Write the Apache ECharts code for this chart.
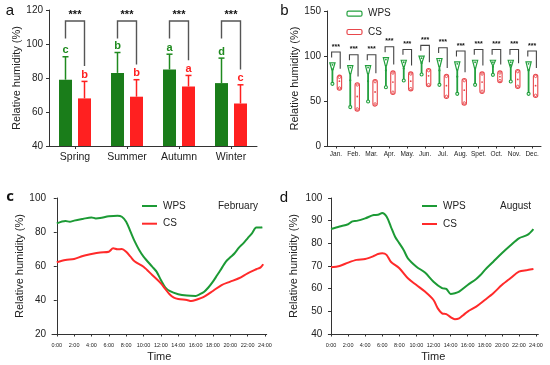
<!DOCTYPE html>
<html><head><meta charset="utf-8">
<script src="https://cdn.jsdelivr.net/npm/echarts@6/dist/echarts.min.js"></script>
<style>html,body{margin:0;padding:0;background:#fff}#c{width:550px;height:365px}</style>
</head><body><div id="c"></div>
<script>
// ---------- Panel a: seasonal means ----------
const seasons = ['Spring', 'Summer', 'Autumn', 'Winter'];
const seasonWps = [79, 83, 85, 77];
const seasonWpsErr = [13.5, 12, 9, 14.7];
const seasonCs = [68, 69, 75, 65];
const seasonCsErr = [10, 10, 6.5, 11];
const seasonWpsLetters = ['c', 'b', 'a', 'd'];
const seasonCsLetters = ['b', 'b', 'a', 'c'];
const aTicks = [40, 60, 80, 100, 120];

// ---------- Panel b: monthly violins ----------
const months = ['Jan.', 'Feb.', 'Mar.', 'Apr.', 'May.', 'Jun.', 'Jul.', 'Aug.', 'Spet.', 'Oct.', 'Nov.', 'Dec.'];
const wpsMin = [67.6, 41.8, 48, 63.9, 71.3, 78, 66.5, 56.5, 66.5, 77.6, 70.2, 56.5];
const wpsMed = [85, 73, 72, 84, 86, 92, 84, 77, 86, 88, 90, 84];
const wpsMax = [92.4, 89.4, 89.4, 98.3, 95.3, 99.8, 97.2, 93.5, 95.3, 95.3, 95.3, 93.5];
const csMin = [62, 38.8, 44.3, 57.3, 61.3, 65.8, 52.8, 45.4, 58.4, 70.2, 63.9, 53.9];
const csMed = [72, 55, 60, 71, 72, 78, 67, 62, 71, 77, 74, 67];
const csMax = [78.7, 70.2, 73.9, 83.5, 82.4, 86.1, 79.8, 75, 82.4, 83.5, 85, 79.8];

// ---------- Panel c: February diurnal ----------
const febWpsHours = [0,1,1.5,2,3,4,4.5,5,6,7,7.5,8,8.5,9,9.5,10,11,11.5,12,12.5,13,14,15,16,16.5,17,17.5,18,18.5,19,19.5,20,20.5,21,21.5,22,22.5,23,23.5,23.7];
const febWps = [85.1,86.5,86,86.7,87.7,88.6,88,88.2,89.2,89.6,89,86.1,80.2,74.3,69.4,65.5,59.6,56.7,51.8,47.5,45.3,43.4,42.6,42.4,43.4,44.9,47.5,50.8,54.7,58.6,62.6,65.1,67.5,70.8,73.3,76.3,79.2,82.6,82.6,82.8];
const febCsHours = [0,1,2,3,4,5,6,6.5,7,7.5,8,8.5,9,10,11,12,12.5,13,13.5,14,15,15.5,16,17,18,19,20,21,22,23,23.5,23.8];
const febCs = [62.2,63.5,64.1,65.9,67,67.9,68.4,70.4,69.8,70,68.4,65.5,62.6,59.6,54.7,49.8,46.5,43.4,41.4,40.6,40,39.4,40,42,45.3,48.8,50.8,52.8,55.7,58.1,59.2,61];

// ---------- Panel d: August diurnal ----------
const augWpsHours = [0,1,2,2.5,3,4,5,5.5,6,6.5,7,7.5,8,8.5,9,10,11,12,13,13.5,14,14.5,15,16,17,17.5,18,19,20,21,22,23,23.7];
const augWps = [86.3,87.4,88.4,89.7,89.9,91,92.5,92.6,93.4,91.8,87.4,82.9,80,77.1,73.4,69.7,67.1,63.1,60.2,59.9,57.7,58,58.7,61.6,64.3,66,68.2,71.9,75.6,79,82.2,83.7,86.3];
const augCsHours = [0,1,2,3,4,5,5.5,6,6.5,7,8,9,10,11,12,12.5,13,13.5,14,14.5,15,15.5,16,17,18,19,20,21,22,23,23.7];
const augCs = [69.4,70,71.5,72.7,73.1,74.4,75.3,75.6,74.9,71.9,69,64.6,61.6,58.7,55,51.3,49.1,48.8,47.4,46.5,46.9,48.4,49.9,52.1,55,58,61.6,64.6,67.5,68.2,68.7];
const hourTicks = [0,2,4,6,8,10,12,14,16,18,20,22,24];

// ---------- styles ----------
const FONT = 'Liberation Sans';
const GREEN_BAR = '#1a7d1a', RED_BAR = '#ff2020';
const GREEN_LINE = '#1c9a35', RED_LINE = '#ff2a2a';
const GREEN_V = '#23a03e', RED_V = '#e8474c';
const AX = '#333';

const zip = (a, b) => a.map((v, i) => [v, b[i]]);

function axisBase() {
  return {
    axisLine: { show: true, lineStyle: { color: AX, width: 1 } },
    axisTick: { show: true, length: 3, lineStyle: { color: AX } },
    splitLine: { show: false },
    axisLabel: { color: '#222', fontFamily: FONT, fontSize: 10 }
  };
}
function yName(gap) {
  return { name: 'Relative humidity (%)', nameLocation: 'middle', nameGap: gap,
    nameTextStyle: { fontFamily: FONT, fontSize: 11, color: '#222' } };
}

// error bars + letters
function errRender(offset, color, letters) {
  return function (params, api) {
    const i = api.value(0), m = api.value(1), e = api.value(2);
    const p0 = api.coord([i, m]), p1 = api.coord([i, m + e]), pl = api.coord([i, m + e + 3.8]);
    const x = p0[0] + offset;
    return { type: 'group', children: [
      { type: 'line', shape: { x1: x, y1: p0[1], x2: x, y2: p1[1] }, style: { stroke: color, lineWidth: 1.5 } },
      { type: 'line', shape: { x1: x - 3, y1: p1[1], x2: x + 3, y2: p1[1] }, style: { stroke: color, lineWidth: 1.5 } },
      { type: 'text', x: x, y: pl[1], style: { text: letters[params.dataIndex], fill: color, font: 'bold 11px ' + FONT, align: 'center', verticalAlign: 'middle' } }
    ] };
  };
}
// significance bracket (panel a)
function bracketA(params, api) {
  const i = api.value(0), redTop = api.value(2);
  const c = api.coord([i, 113.5]);
  const xl = c[0] - 9.5, xr = c[0] + 9.5;
  const yl = api.coord([i, 103.3])[1], yr = api.coord([i, redTop + 9])[1];
  const ys = api.coord([i, 117.3])[1];
  return { type: 'group', children: [
    { type: 'polyline', shape: { points: [[xl, yl], [xl, c[1]], [xr, c[1]], [xr, yr]] }, style: { stroke: '#555', lineWidth: 1.4, fill: null } },
    { type: 'text', x: c[0], y: ys, style: { text: '***', fill: '#111', font: 'bold 11px ' + FONT, align: 'center', verticalAlign: 'middle' } }
  ] };
}
// violins (panel b)
function greenViolin(params, api) {
  const i = api.value(0), mn = api.value(1), md = api.value(2), mx = api.value(3);
  const top = api.coord([i, mx]), bot = api.coord([i, mn]), pm = api.coord([i, md]);
  const x = top[0] - 3.5, h = bot[1] - top[1];
  const yt = top[1], yn = yt + Math.min(0.3 * h, 8);
  return { type: 'group', children: [
    { type: 'polygon', shape: { points: [[x - 2.6, yt], [x + 2.6, yt], [x + 0.6, yn], [x - 0.6, yn]] }, style: { fill: '#fff', stroke: GREEN_V, lineWidth: 1.2 } },
    { type: 'line', shape: { x1: x, y1: yn, x2: x, y2: bot[1] - 1.6 }, style: { stroke: GREEN_V, lineWidth: 1.8 } },
    { type: 'circle', shape: { cx: x, cy: bot[1] - 1.3, r: 1.5 }, style: { fill: '#fff', stroke: GREEN_V, lineWidth: 1.1 } },
    { type: 'circle', shape: { cx: x, cy: pm[1], r: 1.1 }, style: { fill: GREEN_V } },
    { type: 'circle', shape: { cx: x, cy: yt + 2, r: 0.9 }, style: { fill: GREEN_V } }
  ] };
}
function redViolin(params, api) {
  const i = api.value(0), mn = api.value(1), md = api.value(2), mx = api.value(3);
  const top = api.coord([i, mx]), bot = api.coord([i, mn]), pm = api.coord([i, md]);
  const x = top[0] + 3.5, h = bot[1] - top[1];
  return { type: 'group', children: [
    { type: 'rect', shape: { x: x - 2.2, y: top[1], width: 4.4, height: h, r: 2.2 }, style: { fill: '#fff', stroke: RED_V, lineWidth: 1.1 } },
    { type: 'circle', shape: { cx: x, cy: top[1] + 2.2, r: 1.2 }, style: { fill: '#fff', stroke: RED_V, lineWidth: 0.9 } },
    { type: 'circle', shape: { cx: x, cy: bot[1] - 2.2, r: 1.2 }, style: { fill: '#fff', stroke: RED_V, lineWidth: 0.9 } },
    { type: 'circle', shape: { cx: x, cy: pm[1], r: 0.9 }, style: { fill: RED_V } }
  ] };
}
function bracketB(params, api) {
  const i = api.value(0), gMax = api.value(1), rMax = api.value(2);
  const c = api.coord([i, gMax + 12]);
  const xl = c[0] - 4.3, xr = c[0] + 4.3;
  const yl = api.coord([i, gMax + 6])[1], yr = api.coord([i, rMax + 7])[1];
  const ys = api.coord([i, gMax + 18])[1];
  return { type: 'group', children: [
    { type: 'polyline', shape: { points: [[xl, yl], [xl, c[1]], [xr, c[1]], [xr, yr]] }, style: { stroke: '#444', lineWidth: 1.1, fill: null } },
    { type: 'text', x: c[0], y: ys, style: { text: '***', fill: '#111', font: 'bold 7px ' + FONT, align: 'center', verticalAlign: 'middle' } }
  ] };
}

const chart = echarts.init(document.getElementById('c'), null, { renderer: 'canvas' });

const xA = Object.assign(axisBase(), { type: 'category', gridIndex: 0, data: seasons,
  axisTick: { show: true, alignWithLabel: true, length: 3, lineStyle: { color: AX } } });
xA.axisLabel = { color: '#222', fontFamily: FONT, fontSize: 10.5, margin: 6 };
const yA = Object.assign(axisBase(), yName(21), { type: 'value', gridIndex: 0, min: aTicks[0], max: aTicks[aTicks.length - 1], interval: 20 });
yA.axisLabel = { color: '#222', fontFamily: FONT, fontSize: 10, margin: 6 };

const xB = Object.assign(axisBase(), { type: 'category', gridIndex: 1, data: months,
  axisTick: { show: true, alignWithLabel: true, length: 2.5, lineStyle: { color: AX } } });
xB.axisLabel = { color: '#222', fontFamily: FONT, fontSize: 6.5, margin: 5, interval: 0 };
const yB = Object.assign(axisBase(), yName(27), { type: 'value', gridIndex: 1, min: 0, max: 150, interval: 50 });
yB.axisLabel = { color: '#222', fontFamily: FONT, fontSize: 10, margin: 6 };

function timeX(gi, mn, mx) {
  const a = axisBase();
  return Object.assign(a, { type: 'value', gridIndex: gi, min: mn, max: mx,
    name: 'Time', nameLocation: 'middle', nameGap: 17, nameTextStyle: { fontFamily: FONT, fontSize: 11, color: '#222' },
    axisTick: { show: true, length: 2.5, customValues: hourTicks, lineStyle: { color: AX } },
    axisLabel: { color: '#222', fontFamily: FONT, fontSize: 5.5, margin: 8, customValues: hourTicks, formatter: v => v + ':00' } });
}
const xC = timeX(2, -0.55, 24.2);
const yC = Object.assign(axisBase(), yName(26), { type: 'value', gridIndex: 2, min: 20, max: 100, interval: 20 });
yC.axisLabel = { color: '#222', fontFamily: FONT, fontSize: 10, margin: 6 };
const xD = timeX(3, -0.32, 24.27);
const yD = Object.assign(axisBase(), yName(29), { type: 'value', gridIndex: 3, min: 40, max: 100, interval: 10 });
yD.axisLabel = { color: '#222', fontFamily: FONT, fontSize: 10, margin: 6 };

function lineSeries(name, gi, data, color) {
  return { type: 'line', name: name, xAxisIndex: gi, yAxisIndex: gi, data: data, showSymbol: false, smooth: 0.3,
    lineStyle: { color: color, width: 2 }, itemStyle: { color: color }, animation: false };
}

function legendLine(x, y, color, text) {
  return [
    { type: 'line', shape: { x1: x, y1: y, x2: x + 15, y2: y }, style: { stroke: color, lineWidth: 2 } },
    { type: 'text', x: x + 21, y: y, style: { text: text, fill: '#222', font: '10px ' + FONT, verticalAlign: 'middle' } }
  ];
}
function legendBox(x, y, color, text) {
  return [
    { type: 'rect', shape: { x: x, y: y - 2.5, width: 15, height: 5, r: 1.5 }, style: { fill: '#fff', stroke: color, lineWidth: 1.2 } },
    { type: 'text', x: x + 21, y: y, style: { text: text, fill: '#222', font: '10px ' + FONT, verticalAlign: 'middle' } }
  ];
}
function panelLabel(x, y, t, font) {
  return { type: 'text', x: x, y: y, style: { text: t, fill: '#111', font: font || '15px ' + FONT, align: 'center', verticalAlign: 'middle' } };
}

const option = {
  animation: false,
  backgroundColor: '#fff',
  grid: [
    { left: 49, top: 10, width: 208, height: 136 },
    { left: 327, top: 11, width: 214, height: 135 },
    { left: 52, top: 198, width: 214.7, height: 136 },
    { left: 328.3, top: 198, width: 210, height: 136 }
  ],
  xAxis: [xA, xB, xC, xD],
  yAxis: [yA, yB, yC, yD],
  series: [
    { type: 'bar', name: 'WPS', xAxisIndex: 0, yAxisIndex: 0, data: seasonWps, barWidth: 13, barGap: '46%', itemStyle: { color: GREEN_BAR } },
    { type: 'bar', name: 'CS', xAxisIndex: 0, yAxisIndex: 0, data: seasonCs, barWidth: 13, barGap: '46%', itemStyle: { color: RED_BAR } },
    { type: 'custom', xAxisIndex: 0, yAxisIndex: 0, renderItem: errRender(-9.5, '#1f8a1f', seasonWpsLetters),
      data: seasonWps.map((v, i) => [i, v, seasonWpsErr[i]]), z: 3 },
    { type: 'custom', xAxisIndex: 0, yAxisIndex: 0, renderItem: errRender(9.5, RED_BAR, seasonCsLetters),
      data: seasonCs.map((v, i) => [i, v, seasonCsErr[i]]), z: 3 },
    { type: 'custom', xAxisIndex: 0, yAxisIndex: 0, renderItem: bracketA,
      data: seasonWps.map((v, i) => [i, v + seasonWpsErr[i], seasonCs[i] + seasonCsErr[i]]), z: 3 },
    { type: 'custom', xAxisIndex: 1, yAxisIndex: 1, renderItem: greenViolin,
      data: months.map((m, i) => [i, wpsMin[i], wpsMed[i], wpsMax[i]]) },
    { type: 'custom', xAxisIndex: 1, yAxisIndex: 1, renderItem: redViolin,
      data: months.map((m, i) => [i, csMin[i], csMed[i], csMax[i]]) },
    { type: 'custom', xAxisIndex: 1, yAxisIndex: 1, renderItem: bracketB,
      data: months.map((m, i) => [i, wpsMax[i], csMax[i]]) },
    lineSeries('WPS', 2, zip(febWpsHours, febWps), GREEN_LINE),
    lineSeries('CS', 2, zip(febCsHours, febCs), RED_LINE),
    lineSeries('WPS', 3, zip(augWpsHours, augWps), GREEN_LINE),
    lineSeries('CS', 3, zip(augCsHours, augCs), RED_LINE)
  ],
  graphic: [
    panelLabel(10, 11, 'a'),
    panelLabel(284.5, 10.5, 'b'),
    panelLabel(10, 197, 'c', 'bold 15px "Open Sans"'),
    panelLabel(284, 197.5, 'd'),
    ...legendBox(347, 13.7, GREEN_V, 'WPS'),
    ...legendBox(347, 32, RED_V, 'CS'),
    ...legendLine(142, 206, GREEN_LINE, 'WPS'),
    ...legendLine(142, 223.7, RED_LINE, 'CS'),
    { type: 'text', x: 218, y: 206, style: { text: 'February', fill: '#222', font: '10px ' + FONT, verticalAlign: 'middle' } },
    ...legendLine(422, 206, GREEN_LINE, 'WPS'),
    ...legendLine(422, 224, RED_LINE, 'CS'),
    { type: 'text', x: 500, y: 206, style: { text: 'August', fill: '#222', font: '10px ' + FONT, verticalAlign: 'middle' } }
  ]
};
chart.setOption(option);
</script></body></html>
